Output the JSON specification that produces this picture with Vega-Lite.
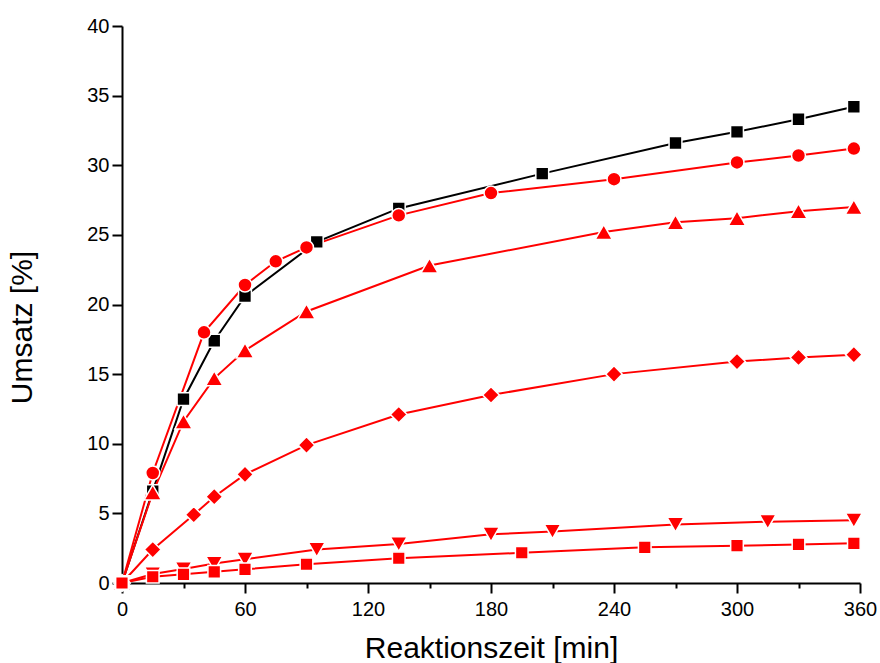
{
  "$schema": "https://vega.github.io/schema/vega-lite/v6.json",
  "autosize": "none",
  "width": 738,
  "height": 557,
  "padding": {"left": 122, "top": 26, "right": 20, "bottom": 80},
  "background": "white",
  "config": {
    "view": {"stroke": null},
    "font": "Liberation Sans",
    "axis": {"grid": false, "domainColor": "black", "domainWidth": 2, "tickColor": "black", "tickWidth": 2, "labelColor": "black", "titleColor": "black", "labelFont": "Liberation Sans", "titleFont": "Liberation Sans", "labelFontSize": 20, "titleFontSize": 30, "titleFontWeight": "normal"}
  },
  "data": {"values": [
    {"s": "A", "t": 0, "u": 0}, {"s": "A", "t": 15, "u": 6.6}, {"s": "A", "t": 30, "u": 13.2}, {"s": "A", "t": 45, "u": 17.4}, {"s": "A", "t": 60, "u": 20.6}, {"s": "A", "t": 95, "u": 24.5}, {"s": "A", "t": 135, "u": 26.9}, {"s": "A", "t": 205, "u": 29.4}, {"s": "A", "t": 270, "u": 31.6}, {"s": "A", "t": 300, "u": 32.4}, {"s": "A", "t": 330, "u": 33.3}, {"s": "A", "t": 357, "u": 34.2},
    {"s": "B", "t": 0, "u": 0}, {"s": "B", "t": 15, "u": 7.9}, {"s": "B", "t": 40, "u": 18.0}, {"s": "B", "t": 60, "u": 21.4}, {"s": "B", "t": 75, "u": 23.1}, {"s": "B", "t": 90, "u": 24.1}, {"s": "B", "t": 135, "u": 26.4}, {"s": "B", "t": 180, "u": 28.0}, {"s": "B", "t": 240, "u": 29.0}, {"s": "B", "t": 300, "u": 30.2}, {"s": "B", "t": 330, "u": 30.7}, {"s": "B", "t": 357, "u": 31.2},
    {"s": "C", "t": 0, "u": 0}, {"s": "C", "t": 15, "u": 6.5}, {"s": "C", "t": 30, "u": 11.6}, {"s": "C", "t": 45, "u": 14.7}, {"s": "C", "t": 60, "u": 16.7}, {"s": "C", "t": 90, "u": 19.5}, {"s": "C", "t": 150, "u": 22.8}, {"s": "C", "t": 235, "u": 25.2}, {"s": "C", "t": 270, "u": 25.9}, {"s": "C", "t": 300, "u": 26.2}, {"s": "C", "t": 330, "u": 26.7}, {"s": "C", "t": 357, "u": 27.0},
    {"s": "D", "t": 0, "u": 0}, {"s": "D", "t": 15, "u": 2.4}, {"s": "D", "t": 35, "u": 4.9}, {"s": "D", "t": 45, "u": 6.2}, {"s": "D", "t": 60, "u": 7.8}, {"s": "D", "t": 90, "u": 9.9}, {"s": "D", "t": 135, "u": 12.1}, {"s": "D", "t": 180, "u": 13.5}, {"s": "D", "t": 240, "u": 15.0}, {"s": "D", "t": 300, "u": 15.9}, {"s": "D", "t": 330, "u": 16.2}, {"s": "D", "t": 357, "u": 16.4},
    {"s": "E", "t": 0, "u": 0}, {"s": "E", "t": 15, "u": 0.65}, {"s": "E", "t": 30, "u": 1.0}, {"s": "E", "t": 45, "u": 1.4}, {"s": "E", "t": 60, "u": 1.7}, {"s": "E", "t": 95, "u": 2.4}, {"s": "E", "t": 135, "u": 2.8}, {"s": "E", "t": 180, "u": 3.5}, {"s": "E", "t": 210, "u": 3.7}, {"s": "E", "t": 270, "u": 4.2}, {"s": "E", "t": 315, "u": 4.4}, {"s": "E", "t": 357, "u": 4.5},
    {"s": "F", "t": 0, "u": 0}, {"s": "F", "t": 15, "u": 0.45}, {"s": "F", "t": 30, "u": 0.62}, {"s": "F", "t": 45, "u": 0.8}, {"s": "F", "t": 60, "u": 0.98}, {"s": "F", "t": 90, "u": 1.35}, {"s": "F", "t": 135, "u": 1.78}, {"s": "F", "t": 195, "u": 2.17}, {"s": "F", "t": 255, "u": 2.56}, {"s": "F", "t": 300, "u": 2.68}, {"s": "F", "t": 330, "u": 2.77}, {"s": "F", "t": 357, "u": 2.85}
  ]},
  "layer": [
    {
      "mark": {"type": "line", "strokeWidth": 2},
      "encoding": {
        "x": {"field": "t", "type": "quantitative", "scale": {"domain": [0, 360], "nice": false, "zero": false},
              "axis": {"values": [0, 30, 60, 90, 120, 150, 180, 210, 240, 270, 300, 330, 360], "tickSize": {"condition": {"test": "datum.value % 60 === 0", "value": 10}, "value": 5}, "labelExpr": "datum.value % 60 === 0 ? datum.label : ''", "labelPadding": 6, "title": "Reaktionszeit [min]", "titleY": 74, "titleBaseline": "alphabetic", "labelFlush": false}},
        "y": {"field": "u", "type": "quantitative", "scale": {"domain": [0, 40], "nice": false},
              "axis": {"values": [0, 2.5, 5, 7.5, 10, 12.5, 15, 17.5, 20, 22.5, 25, 27.5, 30, 32.5, 35, 37.5, 40], "tickSize": {"condition": {"test": "datum.value % 5 === 0", "value": 10}, "value": 5}, "labelExpr": "datum.value % 5 === 0 ? datum.label : ''", "labelPadding": 3, "title": "Umsatz [%]", "titleX": -100, "titleY": 301, "titleAngle": 270, "titleAlign": "center", "titleBaseline": "middle", "labelFlush": false}},
        "color": {"field": "s", "type": "nominal", "scale": {"domain": ["A", "B", "C", "D", "E", "F"], "range": ["#000000", "#FF0000", "#FF0000", "#FF0000", "#FF0000", "#FF0000"]}, "legend": null}
      }
    },
    {
      "mark": {"type": "point", "filled": true, "stroke": "white", "strokeWidth": 1.5, "opacity": 1},
      "encoding": {
        "x": {"field": "t", "type": "quantitative"},
        "y": {"field": "u", "type": "quantitative"},
        "fill": {"field": "s", "type": "nominal", "scale": {"domain": ["A", "B", "C", "D", "E", "F"], "range": ["#000000", "#FF0000", "#FF0000", "#FF0000", "#FF0000", "#FF0000"]}, "legend": null},
        "shape": {"field": "s", "type": "nominal", "scale": {"domain": ["A", "B", "C", "D", "E", "F"], "range": ["square", "circle", "triangle-up", "diamond", "triangle-down", "square"]}, "legend": null},
        "size": {"field": "s", "type": "ordinal", "scale": {"type": "ordinal", "domain": ["A", "B", "C", "D", "E", "F"], "range": [165, 195, 300, 280, 280, 160]}, "legend": null}
      }
    }
  ]
}
